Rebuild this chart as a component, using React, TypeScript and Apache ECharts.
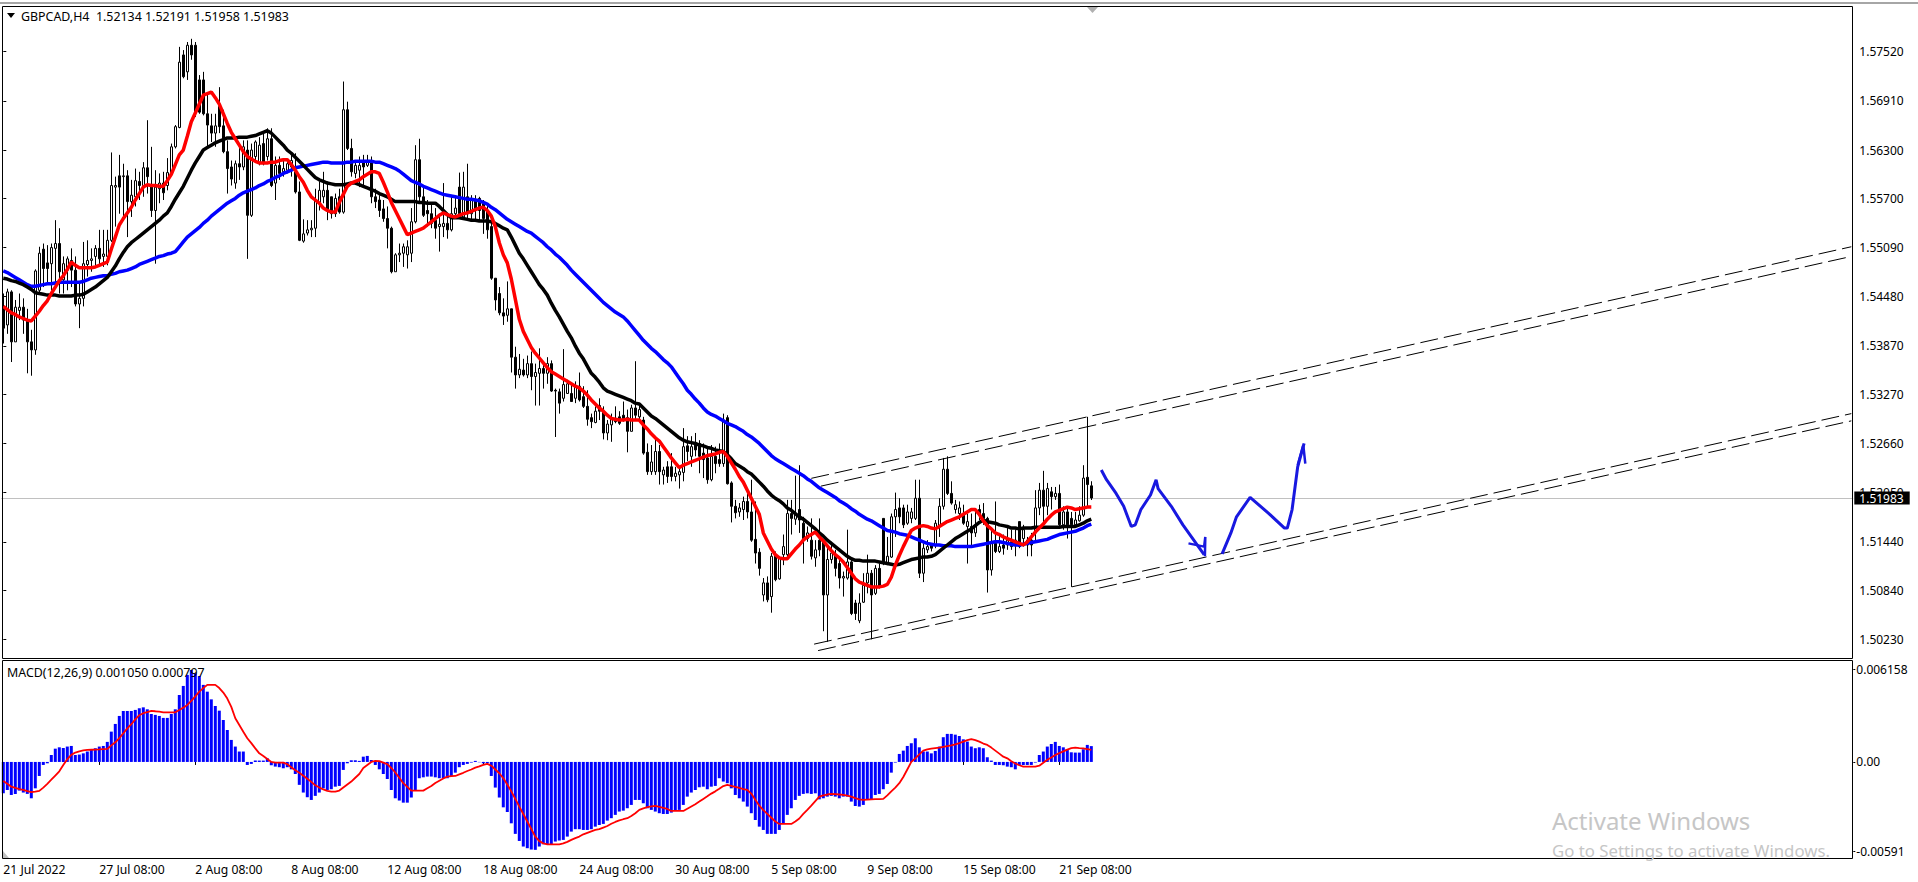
import React, { useEffect, useRef } from "react";
import * as echarts from "echarts";

const FONT = "'Noto Sans', sans-serif";
const SLOTS = 463;
const tickStep = 24;
const tickLabels = ["21 Jul 2022","27 Jul 08:00","2 Aug 08:00","8 Aug 08:00","12 Aug 08:00","18 Aug 08:00","24 Aug 08:00","30 Aug 08:00","5 Sep 08:00","9 Sep 08:00","15 Sep 08:00","21 Sep 08:00"];
const priceTicks = [1.5023,1.5084,1.5144,1.5205,1.5266,1.5327,1.5387,1.5448,1.5509,1.557,1.563,1.5691,1.5752];
const macdTicks = [0.006158,0,-0.00591];
const lastPrice = 1.51983;

// open, high, low, close, in 0.0001 above 1.0
const priceBars = [
[5435,5452,5390,5409],[5413,5458,5402,5454],[5454,5456,5367,5392],[5392,5444,5392,5435],[5431,5452,5419,5435],[5435,5446,5402,5419],[5419,5433,5353,5392],[5392,5407,5350,5382],[5382,5482,5376,5480],[5456,5510,5452,5502],
[5507,5514,5460,5483],[5490,5512,5464,5483],[5489,5514,5456,5509],[5508,5543,5460,5514],[5514,5533,5452,5479],[5469,5498,5452,5489],[5481,5498,5456,5495],[5493,5508,5460,5481],[5481,5498,5436,5439],[5439,5464,5409,5446],
[5446,5516,5436,5489],[5488,5518,5473,5493],[5493,5508,5479,5495],[5498,5512,5485,5508],[5508,5531,5485,5495],[5498,5531,5485,5501],[5498,5531,5487,5518],[5518,5627,5516,5586],[5584,5597,5535,5586],[5598,5624,5551,5584],
[5597,5613,5543,5598],[5598,5605,5522,5566],[5566,5593,5547,5574],[5572,5607,5560,5592],[5591,5603,5568,5586],[5586,5615,5572,5608],[5608,5667,5576,5597],[5586,5634,5547,5555],[5555,5605,5489,5584],[5582,5601,5564,5589],
[5589,5603,5568,5577],[5586,5620,5580,5602],[5601,5638,5599,5634],[5634,5661,5632,5659],[5658,5758,5657,5739],[5748,5754,5719,5721],[5727,5764,5717,5760],[5760,5768,5742,5748],[5760,5764,5671,5677],[5717,5723,5675,5677],
[5717,5727,5673,5675],[5675,5700,5634,5661],[5660,5675,5640,5651],[5651,5675,5634,5660],[5684,5708,5651,5659],[5660,5680,5626,5628],[5628,5642,5576,5607],[5609,5617,5586,5594],[5589,5617,5582,5613],[5613,5634,5593,5609],
[5609,5642,5605,5634],[5630,5642,5495,5549],[5549,5638,5547,5630],[5622,5642,5617,5640],[5613,5646,5611,5636],[5638,5653,5611,5613],[5622,5657,5617,5644],[5644,5657,5584,5586],[5589,5622,5568,5611],[5611,5622,5593,5601],
[5603,5617,5597,5607],[5605,5615,5601,5613],[5609,5624,5597,5617],[5603,5626,5576,5578],[5578,5591,5517,5518],[5517,5544,5515,5526],[5527,5543,5524,5531],[5531,5543,5522,5533],[5533,5582,5522,5568],[5564,5591,5555,5580],
[5572,5603,5564,5580],[5580,5591,5543,5555],[5572,5572,5545,5551],[5551,5576,5547,5570],[5572,5582,5551,5553],[5553,5715,5551,5680],[5680,5690,5630,5632],[5632,5644,5597,5603],[5601,5617,5595,5611],[5605,5622,5584,5611],
[5617,5624,5584,5609],[5611,5624,5609,5617],[5617,5622,5564,5572],[5572,5582,5558,5566],[5568,5574,5547,5555],[5557,5568,5541,5545],[5545,5560,5508,5533],[5533,5535,5477,5479],[5479,5502,5479,5500],[5500,5514,5491,5502],
[5502,5514,5485,5510],[5500,5518,5483,5510],[5502,5558,5491,5541],[5541,5636,5539,5618],[5618,5644,5564,5572],[5572,5586,5547,5549],[5555,5568,5535,5551],[5551,5564,5533,5539],[5543,5558,5520,5533],[5535,5551,5504,5538],
[5535,5589,5522,5539],[5539,5551,5520,5531],[5531,5572,5529,5551],[5551,5572,5547,5558],[5584,5602,5549,5551],[5547,5603,5545,5584],[5572,5613,5543,5551],[5551,5574,5543,5568],[5568,5574,5543,5555],[5570,5572,5543,5555],
[5564,5568,5526,5545],[5555,5562,5520,5531],[5535,5543,5469,5471],[5471,5471,5431,5444],[5452,5460,5425,5428],[5428,5446,5413,5424],[5425,5467,5417,5433],[5433,5433,5354,5373],[5373,5386,5334,5351],[5351,5377,5347,5358],
[5357,5371,5349,5351],[5351,5375,5347,5365],[5365,5380,5332,5349],[5349,5365,5313,5354],[5353,5384,5313,5359],[5359,5365,5334,5353],[5353,5373,5340,5365],[5365,5369,5330,5331],[5332,5334,5274,5331],[5330,5334,5303,5316],
[5322,5383,5318,5339],[5328,5345,5328,5340],[5328,5339,5318,5318],[5322,5343,5316,5337],[5337,5354,5318,5320],[5324,5337,5310,5312],[5312,5332,5288,5296],[5298,5303,5285,5293],[5292,5312,5291,5306],[5313,5322,5295,5306],
[5306,5312,5271,5279],[5279,5295,5270,5290],[5289,5303,5268,5297],[5297,5312,5291,5293],[5299,5306,5289,5291],[5301,5318,5293,5297],[5298,5308,5255,5281],[5281,5314,5281,5310],[5310,5368,5295,5301],[5299,5316,5295,5308],
[5295,5299,5252,5254],[5255,5266,5227,5231],[5231,5264,5227,5243],[5231,5275,5227,5256],[5256,5264,5215,5231],[5227,5237,5215,5233],[5237,5244,5217,5225],[5237,5254,5219,5225],[5225,5237,5219,5229],[5227,5237,5210,5231],
[5230,5285,5219,5262],[5263,5275,5244,5256],[5250,5275,5237,5262],[5264,5279,5250,5258],[5266,5270,5229,5250],[5254,5266,5223,5246],[5248,5262,5216,5221],[5221,5264,5219,5250],[5250,5262,5229,5241],[5246,5266,5237,5241],
[5241,5303,5237,5295],[5298,5301,5215,5216],[5217,5219,5168,5188],[5188,5196,5173,5180],[5181,5192,5175,5186],[5184,5200,5171,5194],[5194,5204,5173,5181],[5181,5221,5144,5146],[5147,5194,5117,5130],[5131,5136,5102,5111],
[5078,5099,5070,5093],[5093,5101,5069,5072],[5076,5130,5056,5126],[5126,5132,5095,5097],[5098,5126,5097,5124],[5128,5153,5115,5138],[5128,5196,5126,5179],[5179,5196,5153,5173],[5172,5226,5165,5179],[5184,5239,5155,5171],
[5167,5175,5117,5148],[5148,5163,5144,5155],[5146,5173,5122,5126],[5124,5146,5113,5134],[5146,5173,5126,5134],[5144,5144,5033,5078],[5078,5140,5020,5122],[5122,5144,5117,5130],[5126,5134,5101,5111],[5117,5124,5086,5099],
[5099,5107,5076,5101],[5099,5159,5097,5119],[5119,5124,5053,5055],[5068,5072,5047,5055],[5046,5080,5043,5068],[5069,5105,5068,5090],[5093,5128,5080,5105],[5105,5109,5023,5078],[5080,5115,5078,5111],[5111,5117,5086,5088],
[5173,5173,5115,5117],[5117,5150,5115,5126],[5125,5179,5124,5175],[5175,5205,5150,5184],[5186,5198,5167,5175],[5186,5190,5161,5165],[5167,5190,5165,5181],[5173,5186,5167,5181],[5173,5221,5171,5198],[5198,5221,5099,5105],
[5105,5142,5094,5136],[5134,5146,5130,5138],[5140,5142,5132,5136],[5140,5171,5136,5167],[5163,5198,5150,5188],[5188,5248,5184,5234],[5234,5250,5202,5204],[5204,5219,5190,5192],[5184,5196,5179,5190],[5179,5194,5171,5186],
[5179,5190,5165,5167],[5163,5179,5117,5169],[5163,5179,5140,5155],[5155,5184,5150,5165],[5184,5190,5171,5177],[5179,5192,5165,5173],[5173,5175,5081,5109],[5109,5159,5102,5142],[5142,5194,5130,5132],[5132,5155,5130,5138],
[5140,5153,5128,5136],[5140,5161,5134,5146],[5144,5159,5134,5138],[5142,5159,5126,5146],[5169,5169,5136,5138],[5148,5165,5138,5159],[5146,5150,5126,5140],[5146,5155,5126,5140],[5155,5208,5144,5186],[5186,5217,5177,5208],
[5208,5232,5167,5188],[5188,5217,5177,5210],[5206,5212,5184,5200],[5200,5212,5196,5204],[5204,5215,5161,5165],[5165,5188,5159,5181],[5181,5188,5148,5165],[5173,5181,5088,5165],[5165,5181,5163,5171],[5170,5188,5169,5177],
[5177,5239,5175,5223],[5224,5299,5188,5215],[5213.4,5219.1,5195.8,5198.3]
];

const maBlue = [
5480,5478,5475,5472,5469,5466,5463,5461,5461,5462,5463,5464,5464,5465,5466,5466,5466,5466,5466,5466,
5467,5469,5471,5472,5473,5474,5474,5476,5477,5479,5480,5481,5483,5485,5488,5490,5492,5494,5496,5498,
5499,5501,5502,5504,5510,5516,5522,5526,5530,5534,5539,5543,5548,5552,5556,5560,5564,5567,5570,5574,
5577,5579,5581,5583,5586,5588,5591,5593,5596,5598,5601,5603,5605,5608,5609,5610,5611,5612,5613,5614,
5615,5615,5614,5614,5614,5614,5615,5615,5616,5616,5616,5616,5616,5615,5615,5613,5611,5609,5607,5604,
5600,5596,5592,5590,5588,5585,5583,5581,5579,5577,5575,5574,5573,5572,5571,5570,5569,5569,5568,5567,
5565,5563,5559,5556,5552,5548,5544,5541,5538,5535,5532,5529,5527,5523,5519,5515,5510,5506,5501,5497,
5492,5487,5481,5476,5471,5466,5461,5456,5451,5446,5441,5437,5433,5429,5426,5423,5418,5412,5406,5400,
5394,5389,5384,5380,5375,5370,5366,5361,5354,5347,5340,5332,5327,5321,5316,5310,5305,5302,5300,5297,
5294,5291,5289,5287,5284,5281,5277,5274,5270,5266,5261,5256,5251,5247,5244,5241,5238,5235,5232,5229,
5226,5222,5219,5215,5211,5208,5205,5202,5199,5195,5192,5189,5185,5182,5178,5175,5172,5170,5167,5164,
5161,5158,5157,5156,5154,5153,5152,5150,5148,5146,5144,5142,5141,5140,5140,5139,5139,5139,5138,5138,
5138,5138,5138,5139,5140,5141,5142,5143,5144,5144,5143,5142,5141,5140,5140,5141,5142,5143,5144,5145,
5146,5147,5149,5151,5153,5154,5155,5156,5157,5159,5161,5164,5166
];

const maBlack = [
5471,5470,5468,5467,5465,5463,5460,5457,5453,5452,5451,5450,5450,5450,5449,5449,5449,5449,5450,5450,
5451,5454,5457,5460,5464,5468,5472,5479,5486,5495,5503,5510,5515,5519,5523,5527,5531,5535,5539,5543,
5548,5552,5560,5569,5577,5585,5595,5605,5614,5622,5630,5633,5636,5639,5641,5643,5645,5645,5645,5646,
5646,5646,5647,5648,5650,5652,5654,5651,5646,5641,5636,5630,5626,5621,5616,5611,5606,5601,5596,5593,
5591,5589,5588,5587,5587,5587,5588,5589,5589,5587,5585,5583,5581,5579,5576,5574,5572,5569,5566,5566,
5566,5566,5566,5566,5565,5565,5564,5564,5564,5560,5555,5550,5546,5546,5546,5545,5544,5543,5543,5542,
5542,5542,5541,5539,5536,5533,5531,5522,5512,5502,5495,5487,5479,5471,5463,5457,5450,5440,5431,5423,
5414,5405,5397,5387,5378,5371,5362,5353,5348,5342,5335,5331,5329,5327,5325,5323,5321,5319,5316,5315,
5310,5305,5300,5297,5293,5289,5285,5281,5277,5273,5270,5268,5267,5266,5264,5263,5261,5260,5258,5257,
5256,5252,5247,5241,5238,5235,5231,5228,5223,5218,5213,5207,5202,5198,5195,5191,5186,5183,5179,5175,
5172,5168,5164,5160,5155,5151,5146,5142,5138,5134,5130,5126,5123,5121,5121,5120,5120,5120,5120,5119,
5118,5117,5116,5115,5116,5118,5120,5122,5123,5124,5125,5125,5126,5128,5132,5136,5140,5144,5148,5151,
5154,5157,5160,5164,5168,5171,5169,5168,5167,5165,5164,5163,5161,5161,5160,5161,5161,5161,5162,5162,
5162,5162,5162,5162,5162,5163,5163,5163,5163,5165,5167,5170,5172
];

const maRed = [
5436,5432,5428,5426,5423,5421,5419,5418,5424,5430,5437,5443,5452,5460,5468,5474,5482,5491,5487,5484,
5484,5484,5484,5485,5487,5489,5491,5507,5522,5537,5545,5552,5559,5568,5576,5584,5587,5586,5586,5585,
5585,5592,5600,5612,5624,5630,5647,5665,5676,5687,5698,5700,5702,5695,5687,5675,5663,5652,5644,5636,
5628,5622,5619,5616,5614,5614,5614,5615,5615,5617,5618,5618,5612,5605,5597,5590,5580,5572,5568,5564,
5558,5555,5553,5553,5565,5575,5585,5589,5591,5593,5597,5600,5603,5603,5601,5590,5578,5565,5555,5545,
5535,5525,5527,5529,5531,5533,5537,5541,5545,5549,5552,5550,5548,5547,5549,5551,5552,5554,5556,5558,
5559,5555,5548,5535,5515,5500,5490,5470,5445,5420,5405,5395,5385,5378,5372,5366,5360,5355,5352,5349,
5346,5343,5340,5337,5335,5331,5326,5320,5315,5310,5306,5301,5297,5296,5295,5295,5296,5295,5295,5295,
5289,5284,5278,5273,5269,5262,5255,5248,5242,5236,5239,5241,5243,5245,5247,5249,5251,5252,5253,5255,
5256,5250,5242,5234,5225,5218,5208,5198,5188,5178,5155,5145,5135,5128,5124,5123,5123,5129,5135,5140,
5146,5150,5153,5156,5150,5145,5139,5133,5128,5124,5119,5112,5105,5098,5094,5092,5090,5088,5088,5088,
5089,5091,5100,5115,5127,5138,5148,5158,5161,5163,5164,5163,5161,5160,5163,5166,5169,5171,5173,5175,
5178,5181,5184,5184,5178,5170,5164,5160,5155,5153,5150,5148,5146,5144,5142,5140,5144,5150,5156,5161,
5166,5172,5177,5181,5183,5185,5187,5186,5184,5185,5186,5187,5187
];

// MACD histogram and signal, in 0.00001
const macdHist = [
-208,-186,-219,-212,-190,-203,-212,-241,-175,-93,-20,-9,46,88,97,93,102,106,46,49,
57,69,80,91,102,106,133,201,252,305,338,338,338,345,356,362,349,318,312,305,
292,292,318,349,444,504,577,610,588,570,511,466,415,371,340,278,212,146,102,69,
69,-20,-13,9,9,9,24,-22,-31,-35,-42,-35,-49,-80,-152,-203,-234,-252,-225,-203,
-175,-186,-181,-164,-159,-53,-9,11,11,7,35,40,13,-20,-49,-80,-113,-186,-241,-256,
-270,-270,-236,-186,-108,-102,-97,-97,-102,-108,-108,-108,-93,-71,-35,-20,-13,-4,7,-2,
-9,-9,-93,-170,-236,-301,-332,-407,-477,-524,-561,-572,-581,-583,-561,-546,-546,-546,-528,-521,
-517,-495,-462,-446,-446,-451,-451,-446,-429,-418,-411,-389,-373,-351,-329,-323,-307,-285,-252,-252,
-274,-307,-318,-329,-340,-345,-345,-336,-323,-318,-285,-230,-203,-186,-168,-164,-181,-164,-159,-108,
-130,-141,-175,-219,-241,-263,-296,-340,-385,-429,-451,-477,-477,-477,-451,-407,-351,-307,-252,-225,
-212,-208,-212,-208,-248,-241,-230,-225,-230,-241,-230,-230,-263,-292,-296,-285,-252,-252,-219,-212,
-181,-146,-71,-4,53,75,106,124,157,97,69,69,57,73,102,164,186,186,181,172,
150,135,102,91,97,91,31,9,-20,-20,-22,-31,-35,-49,-20,-20,-20,-20,-4,46,
69,102,119,133,106,97,86,64,62,62,84,113,105
];

const macdSignal = [
-126,-145,-164,-172,-180,-186,-193,-200,-197,-192,-170,-145,-118,-90,-62,-20,18,47,62,70,
76,80,81,82,83,85,86,110,130,158,190,223,250,282,310,323,331,338,336,333,
329,329,329,329,345,360,378,405,435,466,490,511,511,511,490,460,420,365,290,245,
200,157,125,90,57,40,20,0,-4,-4,-4,-15,-35,-55,-72,-92,-112,-132,-155,-170,
-182,-192,-197,-197,-190,-170,-150,-130,-105,-80,-40,-20,0,7,5,-5,-15,-40,-70,-105,
-141,-165,-190,-190,-190,-190,-175,-160,-140,-125,-110,-97,-94,-93,-82,-72,-60,-50,-38,-30,
-20,-13,-25,-50,-75,-108,-150,-195,-245,-296,-345,-395,-445,-495,-525,-540,-546,-546,-546,-546,
-540,-530,-517,-505,-495,-480,-470,-460,-451,-445,-435,-425,-410,-398,-388,-380,-373,-358,-340,-318,
-308,-300,-294,-292,-298,-305,-312,-325,-325,-325,-325,-310,-295,-280,-263,-245,-228,-210,-195,-178,
-160,-152,-158,-165,-172,-180,-186,-210,-250,-290,-320,-345,-370,-395,-411,-411,-411,-411,-395,-375,
-345,-318,-290,-260,-230,-222,-216,-212,-214,-216,-219,-224,-230,-240,-248,-252,-250,-248,-247,-246,
-245,-222,-195,-170,-141,-100,-50,0,24,50,75,84,88,92,95,100,105,110,117,125,
135,145,152,145,135,122,113,95,75,55,35,24,5,-10,-22,-31,-31,-31,-31,-25,
-5,15,30,46,58,70,82,91,95,92,90,85,80
];

// Drawn objects: [bar position, price in 0.0001 above 1.0]
const channelUpperA = [[202,5222.7],[462,5510]];
const channelUpperB = [[204.4,5213],[462,5498]];
const channelLowerA = [[202.7,5017],[462,5303]];
const channelLowerB = [[203.7,5009],[462,5294]];
const sketchDown = [[274.5,5233],[275.8,5221],[278.2,5204],[280.1,5188],[282,5163],[283,5165],[284.4,5184],[286.8,5202],[288.2,5221],[288.7,5210],[292,5188],[294.9,5165],[300.2,5128]];
const sketchDownHead = [[296.3,5142],[300.2,5138],[300.5,5150],[300.4,5126]];
const sketchUp = [[304.7,5129],[306.9,5155],[308.3,5175],[311.7,5199],[316.4,5179],[320.3,5161],[321,5161],[322.2,5184],[323.6,5237],[325.2,5266]];
const sketchUpHead = [[323.6,5239],[325,5264],[325.5,5241]];

const toPrice = (v: number) => 1 + v / 10000;
const toMacd = (v: number) => v / 100000;
const toPath = (pts: number[][]) => pts.map(([x, v]) => [x, toPrice(v)]);

const categories: string[] = Array.from({ length: SLOTS }, (_, i) =>
  tickLabels[i / tickStep] !== undefined ? tickLabels[i / tickStep] : ""
);
const isLabelled = (i: number) => i % tickStep === 0 && tickLabels[i / tickStep] !== undefined;

const maLine = (data: number[], color: string) => ({
  type: "line", xAxisIndex: 0, yAxisIndex: 0, data: data.map(toPrice), showSymbol: false, symbol: "none",
  lineStyle: { color, width: 3.5 }, itemStyle: { color }, z: 3,
});
const drawn = (pts: number[][], color: string, width: number, dash?: number[]) => ({
  type: "line", xAxisIndex: 2, yAxisIndex: 0, data: toPath(pts), showSymbol: false, symbol: "none",
  lineStyle: { color, width, type: dash || "solid" }, itemStyle: { color }, z: 4,
});

export default function App() {
  const ref = useRef<HTMLDivElement>(null);
  useEffect(() => {
    document.body.style.margin = "0";
    document.body.style.background = "#fff";
    const chart = echarts.init(ref.current as HTMLDivElement, undefined, { renderer: "svg" });
    const gridLeft = 1.3;
    const gridWidth = 1852;
    chart.setOption({
      animation: false,
      backgroundColor: "#fff",
      textStyle: { fontFamily: FONT },
      grid: [
        { left: gridLeft, top: 6, width: gridWidth, height: 652 },
        { left: gridLeft, top: 660, width: gridWidth, height: 198 },
      ],
      xAxis: [
        { type: "category", gridIndex: 0, data: categories, boundaryGap: true, axisLine: { show: false }, axisTick: { show: false }, axisLabel: { show: false }, splitLine: { show: false } },
        { type: "category", gridIndex: 1, data: categories, boundaryGap: true, axisLine: { show: false },
          axisTick: { show: true, alignWithLabel: true, length: 3, interval: (i: number) => isLabelled(i), lineStyle: { color: "#000" } },
          axisLabel: { show: true, interval: (i: number) => isLabelled(i), align: "left", color: "#000", fontSize: 12.2, fontFamily: FONT, margin: 5, hideOverlap: false },
          splitLine: { show: false } },
        { type: "value", gridIndex: 0, min: -0.5, max: SLOTS - 0.5, show: false },
      ],
      yAxis: [
        { type: "value", gridIndex: 0, position: "right", min: 1.49998, max: 1.58087, splitLine: { show: false }, axisLine: { show: false },
          axisTick: { show: true, length: 3, customValues: priceTicks, lineStyle: { color: "#000" } },
          axisLabel: { show: true, customValues: priceTicks, color: "#000", fontSize: 12, fontFamily: FONT, margin: 6, formatter: (v: number) => v.toFixed(5) } },
        { type: "value", gridIndex: 1, position: "right", min: -0.00637, max: 0.00676, splitLine: { show: false }, axisLine: { show: false },
          axisTick: { show: true, length: 2, customValues: macdTicks, lineStyle: { color: "#000" } },
          axisLabel: { show: true, customValues: macdTicks, color: "#000", fontSize: 12, fontFamily: FONT, margin: 3, formatter: (v: number) => (v === 0 ? "0.00" : String(v)) } },
      ],
      series: [
        {
          type: "candlestick", xAxisIndex: 0, yAxisIndex: 0, barWidth: 3, z: 2,
          data: priceBars.map(([o, h, l, c]) => [toPrice(o), toPrice(c), toPrice(l), toPrice(h)]),
          itemStyle: { color: "#fff", color0: "#000", borderColor: "#000", borderColor0: "#000", borderWidth: 1 },
          markLine: {
            silent: true, symbol: "none", animation: false, z: 1, precision: 5,
            lineStyle: { color: "#c0c0c0", width: 1, type: "solid" },
            label: { show: true, position: "end", distance: 1, formatter: () => lastPrice.toFixed(5), backgroundColor: "#000", color: "#fff", fontSize: 12, lineHeight: 13, fontFamily: FONT, padding: [0, 6, 0, 5] },
            data: [{ yAxis: lastPrice }],
          },
        },
        maLine(maBlue, "#0000ff"),
        maLine(maBlack, "#000000"),
        maLine(maRed, "#ff0000"),
        drawn(channelUpperA, "#000", 1, [18, 6]),
        drawn(channelUpperB, "#000", 1, [18, 6]),
        drawn(channelLowerA, "#000", 1, [18, 6]),
        drawn(channelLowerB, "#000", 1, [18, 6]),
        drawn(sketchDown, "#1818e0", 3),
        drawn(sketchDownHead, "#1818e0", 2.5),
        drawn(sketchUp, "#1818e0", 3),
        drawn(sketchUpHead, "#1818e0", 2.5),
        { type: "bar", xAxisIndex: 1, yAxisIndex: 1, data: macdHist.map(toMacd), barWidth: 3, itemStyle: { color: "#0000ff" } },
        { type: "line", xAxisIndex: 1, yAxisIndex: 1, data: macdSignal.map(toMacd), showSymbol: false, symbol: "none", lineStyle: { color: "#ff0000", width: 1.8 }, z: 3 },
      ],
      graphic: [
        { type: "rect", silent: true, z: 1, shape: { x: 0, y: 2, width: 1918, height: 2 }, style: { fill: "#a6a6a6" } },
        { type: "rect", silent: true, z: 20, shape: { x: 2.5, y: 6.5, width: 1850, height: 652 }, style: { fill: "none", stroke: "#000", lineWidth: 1 } },
        { type: "rect", silent: true, z: 20, shape: { x: 2.5, y: 660.5, width: 1850, height: 198 }, style: { fill: "none", stroke: "#000", lineWidth: 1 } },
        { type: "polygon", silent: true, z: 21, shape: { points: [[7, 13], [15, 13], [11, 18]] }, style: { fill: "#000" } },
        { type: "polygon", silent: true, z: 21, shape: { points: [[1087, 7], [1098, 7], [1092.5, 13]] }, style: { fill: "#b0b0b0" } },
        { type: "polygon", silent: true, z: 21, shape: { points: [[3, 851], [3, 858], [9, 858]] }, style: { fill: "#c0c0c0" } },
        { type: "text", silent: true, z: 21, x: 21, y: 16, style: { text: "GBPCAD,H4  1.52134 1.52191 1.51958 1.51983", fill: "#000", font: `12.4px ${FONT}`, textVerticalAlign: "middle" } },
        { type: "text", silent: true, z: 21, x: 7, y: 672, style: { text: "MACD(12,26,9) 0.001050 0.000797", fill: "#000", font: `12.4px ${FONT}`, textVerticalAlign: "middle" } },
        { type: "text", silent: true, z: 22, x: 1552, y: 820, style: { text: "Activate Windows", fill: "#c6c6c6", font: `24px ${FONT}`, textVerticalAlign: "middle" } },
        { type: "text", silent: true, z: 22, x: 1552, y: 850, style: { text: "Go to Settings to activate Windows.", fill: "#c6c6c6", font: `16.8px ${FONT}`, textVerticalAlign: "middle" } },
      ],
    });
    return () => chart.dispose();
  }, []);
  return <div ref={ref} style={{ width: 1918, height: 882, background: "#fff", overflow: "hidden" }} />;
}
